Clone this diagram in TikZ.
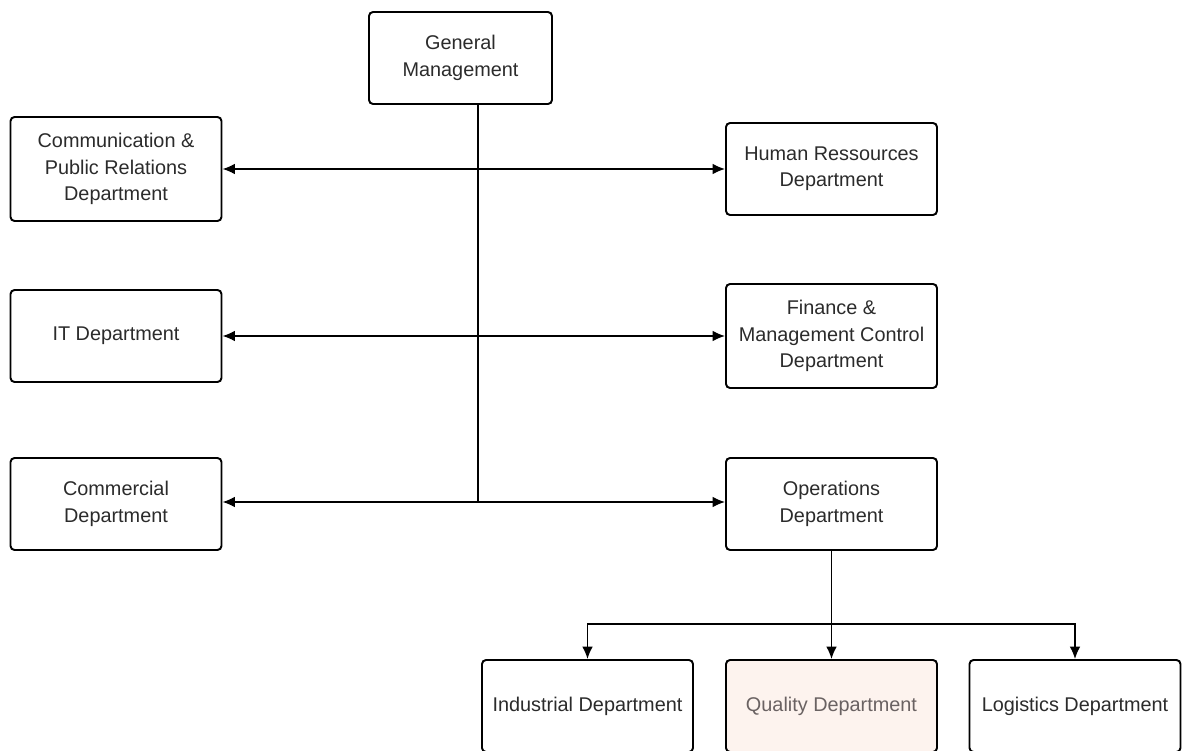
\documentclass[tikz,border=0pt]{standalone}
\usepackage{fontspec}
\setmainfont{Liberation Sans}
\usepackage{xcolor}
\usetikzlibrary{arrows.meta, positioning}
\definecolor{DeptText}{HTML}{2B2B2B}
\definecolor{QualityFill}{HTML}{FDF3EE}
\definecolor{QualityText}{HTML}{6A6262}

\begin{document}
\begin{tikzpicture}[on grid, link/.style={line width=0.8pt}, dept/.style={rectangle, rounded corners=2.3pt, draw, line width=1.1pt, align=center, minimum width=4.22cm, minimum height=1.84cm, text=DeptText, font=\fontsize{11.3}{15}\selectfont}, arr/.style={link, -{Latex[length=7pt, width=6pt]}}, biarr/.style={link, {Latex[length=7pt, width=6pt]}-{Latex[length=7pt, width=6pt]}}]

        \useasboundingbox (0,0) rectangle (23.64,-15.02);

        \node[dept, minimum width=3.66cm] (GM) at (9.21,-1.16) {General\\Management};
        \node[dept, minimum height=2.08cm] (Comm) at (2.32,-3.38) {Communication \&\\Public Relations\\Department};
        \node[dept] (HR) at (16.63,-3.38) {Human Ressources\\Department};
        \node[dept] (IT) at (2.32,-6.72) {IT Department};
        \node[dept, minimum height=2.08cm] (Fin) at (16.63,-6.72) {Finance \&\\Management Control\\Department};
        \node[dept] (Com) at (2.32,-10.08) {Commercial\\Department};
        \node[dept] (Ops) at (16.63,-10.08) {Operations\\Department};
        \node[dept, fill=QualityFill, text=QualityText, below=4.04cm of Ops] (Qual) {Quality Department};
        \node[dept, left=4.88cm of Qual] (Ind) {Industrial Department};
        \node[dept, right=4.87cm of Qual] (Log) {Logistics Department};

        % trunk from general management
        \coordinate (Trunk) at (9.56,-10.04);
        \draw[link] (GM.south -| Trunk) -- (Trunk);
        \draw[biarr] (Comm.east) -- (HR.west);
        \draw[biarr] (IT.east) -- (Fin.west);
        \draw[biarr] (Com.east |- Trunk) -- (Ops.west |- Trunk);

        % operations split
        \draw[link] (Ops.south) -- ++(0,-1.46) coordinate (Split);
        \draw[arr] (Split) -| (Ind.north);
        \draw[arr] (Split) -| (Log.north);
        \draw[arr] (Split) -- (Qual.north);

    \end{tikzpicture}
\end{document}
